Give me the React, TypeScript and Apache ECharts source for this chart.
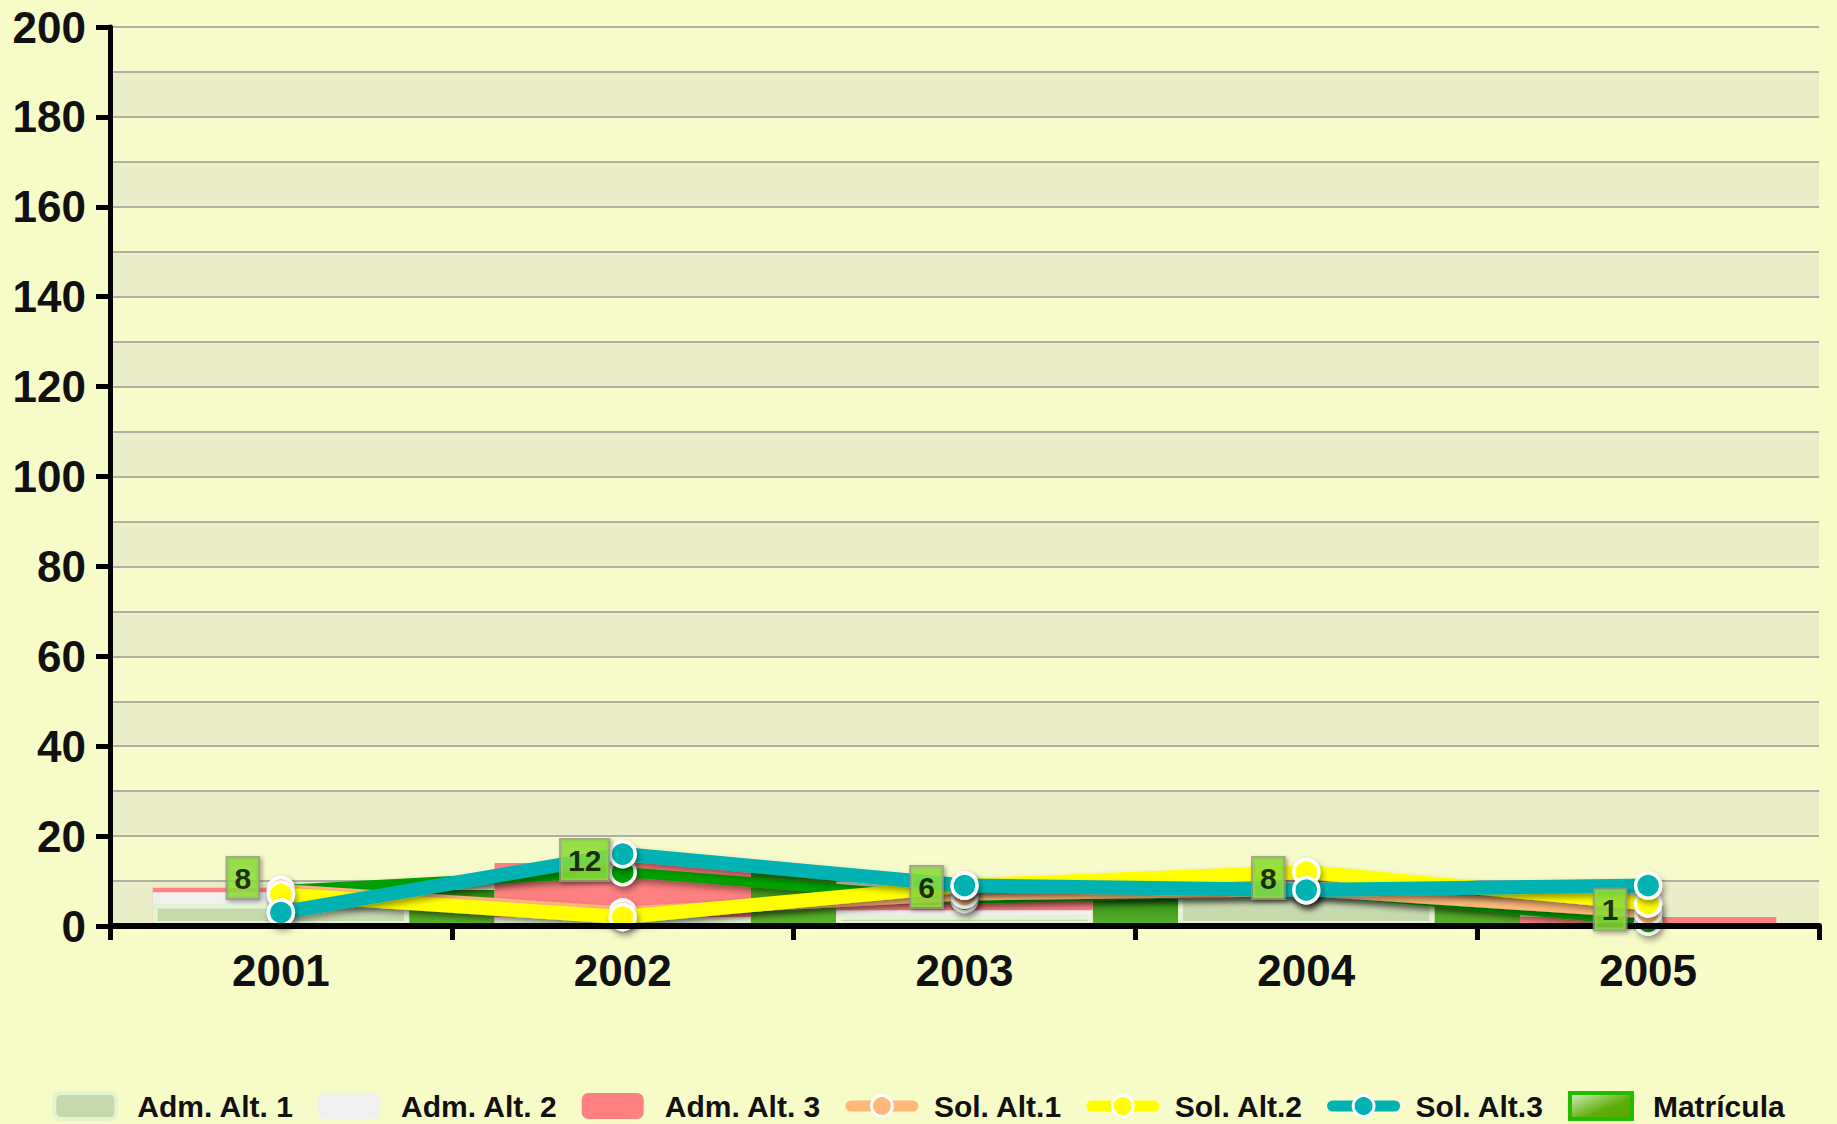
import React, { useEffect, useRef } from "react";
import * as echarts from "echarts";

const categories = ["2001", "2002", "2003", "2004", "2005"];
const admAlt1 = [5, 2, 2.5, 7, 0];
const admAlt2 = [7.5, 0, 3.5, 0, 0];
const admAlt3 = [8.5, 14, 7, 0, 2];
const solAlt1 = [8, 3, 7, 8, 3];
const solAlt2 = [7, 2, 9, 12, 5];
const solAlt3 = [3, 16, 9, 8, 9];
const matricula = [8, 12, 6, 8, 1];
const legendNames = ["Adm. Alt. 1", "Adm. Alt. 2", "Adm. Alt. 3", "Sol. Alt.1", "Sol. Alt.2", "Sol. Alt.3", "Matrícula"];

const FONT = "'Liberation Sans', Arial, sans-serif";

export default function App() {
  const ref = useRef<HTMLDivElement>(null);
  useEffect(() => {
    document.body.style.margin = "0";
    const chart = echarts.init(ref.current!, null, { renderer: "svg" });
    const lineShadow = { shadowColor: "rgba(0,0,0,0.4)", shadowBlur: 6, shadowOffsetX: 2, shadowOffsetY: 4 };
    const matGradient = new echarts.graphic.LinearGradient(0, 0, 0, 1, [
      { offset: 0, color: "#1F7A0C" },
      { offset: 0.3, color: "#3E981A" },
      { offset: 1, color: "#5DB42A" },
    ]);
    const mkLine = (name: string, data: number[], color: string, width: number, z: number) => ({
      name,
      type: "line",
      data,
      z,
      symbol: "circle",
      symbolSize: 25,
      lineStyle: { color, width, ...lineShadow },
      itemStyle: { color, borderColor: "#ffffff", borderWidth: 3.5, ...lineShadow },
    });
    const option: any = {
      animation: false,
      backgroundColor: "#F7FBC8",
      grid: { left: 110, right: 18, top: 27, bottom: 198, containLabel: false },
      legend: {
        data: legendNames.map((n) =>
          n === "Matrícula"
            ? {
                name: n,
                icon: "rect",
                itemStyle: {
                  color: new echarts.graphic.LinearGradient(0, 0, 1, 1, [
                    { offset: 0, color: "#D8EEC0" },
                    { offset: 0.6, color: "#5EAD08" },
                    { offset: 1, color: "#58A800" },
                  ]),
                  borderColor: "#22BB00",
                  borderWidth: 4,
                },
              }
            : n.indexOf("Sol") === 0
            ? { name: n, lineStyle: { width: 11, cap: "round" }, itemStyle: { borderColor: "#ffffff", borderWidth: 3 } }
            : n === "Adm. Alt. 1"
            ? { name: n, itemStyle: { color: "#C6D8AE", borderColor: "#E4F4D2", borderWidth: 4 } }
            : { name: n }
        ),
        left: "center",
        top: 1091,
        padding: 0,
        itemWidth: 62,
        itemHeight: 26,
        itemGap: 24,
        textStyle: { fontSize: 30, fontWeight: "bold", fontFamily: FONT, color: "#111", padding: [0, 0, 0, 16] },
      },
      xAxis: {
        type: "category",
        data: categories,
        boundaryGap: true,
        z: 10,
        axisLine: { lineStyle: { color: "#000", width: 6 } },
        axisTick: { show: true, length: 14, lineStyle: { color: "#000", width: 5 } },
        axisLabel: { fontSize: 44, fontWeight: "bold", fontFamily: FONT, color: "#111", margin: 22 },
        splitLine: { show: false },
      },
      yAxis: [
        {
          type: "value",
          min: 0,
          max: 200,
          interval: 20,
          z: 10,
          axisLine: { show: true, lineStyle: { color: "#000", width: 5 } },
          axisTick: { show: true, length: 14, lineStyle: { color: "#000", width: 5 } },
          axisLabel: { fontSize: 44, fontWeight: "bold", fontFamily: FONT, color: "#111", margin: 24 },
          splitLine: { show: false },
        },
        {
          type: "value",
          min: 0,
          max: 200,
          interval: 10,
          position: "left",
          axisLine: { show: false },
          axisTick: { show: false },
          axisLabel: { show: false },
          splitLine: { show: true, lineStyle: { color: "#B0B0A2", width: 2 } },
          splitArea: { show: true, areaStyle: { color: ["#E9EDC8", "#F7FBCB"] } },
        },
      ],
      series: [
        {
          name: "Matrícula",
          type: "custom",
          z: 1,
          data: matricula.map((v, i) => [i, v]),
          encode: { x: 0, y: 1 },
          renderItem: (params: any, api: any) => {
            const idx = api.value(0);
            const val = api.value(1);
            const base = api.coord([idx, 0]);
            const top = api.coord([idx, val]);
            const bandW = api.size([1, 0])[0];
            const w = bandW * 0.25;
            const cx = base[0] + bandW / 2;
            const cs = params.coordSys;
            if (cx + w / 2 > cs.x + cs.width) return null;
            return {
              type: "rect",
              shape: { x: cx - w / 2, y: top[1], width: w, height: base[1] - top[1] },
              style: { fill: matGradient },
            };
          },
        },
        {
          name: "Adm. Alt. 3",
          type: "bar",
          data: admAlt3,
          barWidth: "75%",
          barGap: "-100%",
          z: 2,
          itemStyle: { color: "#FF8080" },
        },
        {
          name: "Adm. Alt. 2",
          type: "bar",
          data: admAlt2,
          barWidth: "75%",
          barGap: "-100%",
          z: 2,
          itemStyle: { color: "#F0F0F0" },
        },
        {
          name: "Adm. Alt. 1",
          type: "bar",
          data: admAlt1,
          barWidth: "75%",
          barGap: "-100%",
          z: 2,
          itemStyle: { color: "#C6D8AE", borderColor: "#E4F4D2", borderWidth: 5 },
        },
        mkLine("Matrícula", matricula, "#00A000", 10, 3),
        mkLine("Sol. Alt.1", solAlt1, "#FFB878", 12, 4),
        mkLine("Sol. Alt.2", solAlt2, "#FFFF00", 14, 5),
        mkLine("Sol. Alt.3", solAlt3, "#00B2B2", 14, 6),
        {
          name: "Matrícula",
          type: "scatter",
          data: matricula,
          z: 10,
          symbolSize: 1,
          itemStyle: { color: "transparent" },
          label: {
            show: true,
            position: "inside",
            offset: [-38, -12],
            fontSize: 30,
            lineHeight: 32,
            fontWeight: "bold",
            fontFamily: FONT,
            color: "#000",
            backgroundColor: "#8DE23A",
            borderColor: "#8E9C78",
            borderWidth: 2,
            padding: [4, 7, 4, 7],
            shadowColor: "rgba(0,0,0,0.4)",
            shadowBlur: 4,
            shadowOffsetX: 2,
            shadowOffsetY: 2,
          },
        },
      ],
    };
    chart.setOption(option);
    return () => chart.dispose();
  }, []);
  return <div ref={ref} style={{ position: "absolute", left: 0, top: 0, width: 1837, height: 1124 }} />;
}
